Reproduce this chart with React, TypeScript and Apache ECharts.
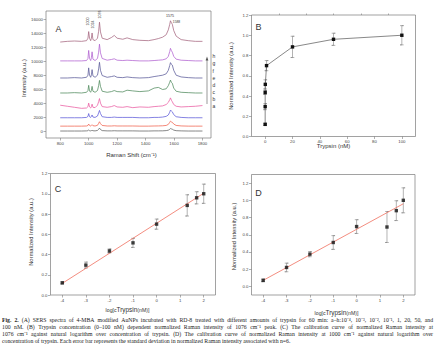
import React, { useEffect, useRef } from "react";
import * as echarts from "echarts";

// ---------- Panel A: SERS spectra ----------
const SHIFT = [800, 850, 900, 950, 985, 995, 1000, 1006, 1014, 1019, 1024, 1030, 1045, 1062, 1070, 1076, 1083, 1095, 1130, 1160, 1180, 1200, 1240, 1270, 1310, 1360, 1420, 1460, 1490, 1520, 1545, 1560, 1570, 1575, 1582, 1588, 1598, 1615, 1650, 1700, 1750, 1800];
const SPEC_A = [0, 0, 0, 0, 20, 50, 150, 50, 20, 60, 100, 40, 20, 80, 250, 420, 220, 60, 20, 20, 40, 20, 20, 20, 20, 0, 0, 20, 20, 30, 60, 120, 250, 350, 300, 260, 130, 50, 20, 0, 0, 0];
const SPEC_B = [700, 700, 700, 700, 720, 800, 1000, 800, 720, 800, 900, 760, 720, 820, 1100, 1330, 1050, 800, 720, 720, 750, 720, 720, 720, 720, 700, 700, 720, 730, 750, 800, 950, 1250, 1420, 1300, 1250, 1000, 800, 730, 700, 700, 700];
const SPEC_C = [1900, 1900, 1900, 1900, 1950, 2100, 2500, 2050, 1950, 2100, 2300, 2000, 1950, 2150, 2600, 2950, 2500, 2050, 1950, 1950, 2000, 1950, 1950, 1950, 1950, 1900, 1900, 1950, 1950, 2000, 2100, 2300, 2700, 3000, 2850, 2750, 2350, 2050, 1950, 1900, 1900, 1900];
const SPEC_D = [3700, 3550, 3400, 3250, 3300, 3500, 4000, 3450, 3300, 3500, 3850, 3400, 3350, 3700, 4200, 4650, 4000, 3500, 3400, 3500, 3650, 3450, 3400, 3500, 3350, 3450, 3400, 3500, 3550, 3600, 3800, 4100, 4500, 4750, 4400, 4200, 3800, 3550, 3450, 3500, 3550, 3650];
const SPEC_E = [5450, 5450, 5500, 5450, 5550, 5800, 6550, 5750, 5550, 5850, 6400, 5700, 5550, 5800, 6500, 7250, 6400, 5700, 5550, 5650, 5800, 5650, 5600, 5850, 5750, 5650, 5750, 6150, 6250, 5950, 6050, 6500, 7000, 7300, 6950, 6850, 6150, 5700, 5550, 5500, 5450, 5450];
const SPEC_F = [7600, 7600, 7650, 7600, 7700, 8000, 9050, 8000, 7700, 8050, 8800, 7900, 7700, 8000, 8900, 9850, 8700, 7950, 7700, 7800, 7900, 7700, 7650, 7750, 7650, 7600, 7650, 7800, 7900, 8000, 8200, 8700, 9400, 9800, 9550, 9450, 8700, 8000, 7750, 7650, 7600, 7600];
const SPEC_G = [10050, 10050, 10050, 10050, 10100, 10400, 11550, 10400, 10100, 10500, 11350, 10300, 10100, 10400, 11300, 12450, 11200, 10400, 10150, 10250, 10350, 10150, 10100, 10150, 10100, 10050, 10050, 10100, 10150, 10200, 10350, 10700, 11400, 11850, 11500, 11300, 10700, 10300, 10150, 10100, 10050, 10050];
const SPEC_H = [12750, 12850, 12900, 12850, 12950, 13300, 14250, 13300, 12950, 13300, 14050, 13100, 12950, 13300, 14300, 15600, 14200, 13300, 13100, 13400, 13700, 13300, 13150, 13350, 13100, 13000, 12950, 13100, 13250, 13450, 13800, 14500, 15300, 15800, 15500, 15300, 14400, 13600, 13100, 12950, 12850, 12850];
const SPECTRA = [SPEC_A, SPEC_B, SPEC_C, SPEC_D, SPEC_E, SPEC_F, SPEC_G, SPEC_H];
const SPEC_COLORS = ["#606060", "#f0604c", "#5c5ad8", "#ea5aa0", "#4f8a5c", "#5a5a98", "#b060d0", "#a4647e"];
const SPEC_LETTERS = ["a", "b", "c", "d", "e", "f", "g", "h"];
const A_X_TICKS = [800, 1000, 1200, 1400, 1600, 1800];
const A_Y_TICKS = [0, 2000, 4000, 6000, 8000, 10000, 12000, 14000, 16000];

// ---------- Panels B–D ----------
const CONC = [0.0001, 0.001, 0.01, 0.1, 1, 20, 50, 100];
const LOGC = [-4, -3, -2, -1, 0, 1.3, 1.7, 2];
const INT_1076 = [0.12, 0.295, 0.435, 0.515, 0.7, 0.885, 0.96, 1.0];
const ERR_1076 = [0.01, 0.03, 0.02, 0.045, 0.05, 0.105, 0.06, 0.095];
const INT_1000 = [0.07, 0.22, 0.375, 0.51, 0.695, 0.69, 0.88, 1.0];
const ERR_1000 = [0.015, 0.05, 0.03, 0.08, 0.08, 0.18, 0.115, 0.145];
const FIT_C = [[-4, 0.115], [2, 1.005]];
const FIT_D = [[-4, 0.07], [2, 0.96]];
const B_X_TICKS = [0, 20, 40, 60, 80, 100];
const B_X_MINOR = [10, 30, 50, 70, 90];
const LOG_TICKS = [-4, -3, -2, -1, 0, 1, 2];
const NORM_TICKS = [0, 0.2, 0.4, 0.6, 0.8, 1.0, 1.2];

const CAPTION = [
  "Fig. 2. (A) SERS spectra of 4-MBA modified AuNPs incubated with RD-8 treated with different amounts of trypsin for 60 min: a–h:10⁻⁴, 10⁻³, 10⁻², 10⁻¹, 1, 20, 50, and",
  "100 nM. (B) Trypsin concentration (0–100 nM) dependent normalized Raman intensity of 1076 cm⁻¹ peak. (C) The calibration curve of normalized Raman intensity at",
  "1076 cm⁻¹ against natural logarithm over concentration of trypsin. (D) The calibration curve of normalized Raman intensity at 1000 cm⁻¹ against natural logarithm over",
  "concentration of trypsin. Each error bar represents the standard deviation in normalized Raman intensity associated with n=6.",
];

const SANS = "Liberation Sans";
const SERIF = "Liberation Serif";
const FRAME = "#7a7a7a";

function axis(gridIndex: number, min: number, max: number, ticks: number[], fmt: (v: number) => string, extra: any = {}) {
  return {
    type: "value",
    gridIndex,
    min,
    max,
    axisLine: { show: false, onZero: false },
    splitLine: { show: false },
    axisTick: { show: true, inside: false, length: extra.tickLength || 2.5, customValues: ticks, lineStyle: { color: FRAME, width: 0.6 } },
    axisLabel: { show: extra.noLabel ? false : true, customValues: ticks, fontSize: 4.3, color: "#444", margin: 3, fontFamily: SANS, formatter: fmt },
  };
}

function errRender(params: any, api: any) {
  const x = api.value(0), y = api.value(1), e = api.value(2);
  const t = api.coord([x, y + e]);
  const b = api.coord([x, y - e]);
  const w = 1.8;
  return {
    type: "polyline",
    shape: {
      points: [
        [t[0] - w, t[1]],
        [t[0] + w, t[1]],
        [t[0], t[1]],
        [b[0], b[1]],
        [b[0] - w, b[1]],
        [b[0] + w, b[1]],
      ],
    },
    style: { stroke: "#808080", lineWidth: 0.6, fill: "none" },
  };
}

function txt(x: number, y: number, text: string, fontSize: number, opts: any = {}) {
  return {
    type: "text",
    x,
    y,
    rotation: opts.rotation || 0,
    style: {
      text,
      fontSize,
      fontFamily: opts.fontFamily || SANS,
      fontWeight: opts.fontWeight || "normal",
      fill: opts.fill || "#333",
      align: opts.align || "center",
      verticalAlign: "middle",
      rich: opts.rich,
    },
  };
}

function captionElements() {
  const out: any[] = [];
  const FS = 5.75;
  const canvas = document.createElement("canvas");
  const ctx = canvas.getContext("2d") as CanvasRenderingContext2D;
  const left = 2, right = 433;
  const ys = [319.5, 326.8, 334.1, 341.4];
  CAPTION.forEach((line, i) => {
    const words = line.split(" ");
    const bolds = words.map((w, j) => i === 0 && j < 2);
    const widths = words.map((w, j) => {
      ctx.font = `${bolds[j] ? "bold " : ""}${FS}px "${SERIF}"`;
      return ctx.measureText(w).width;
    });
    ctx.font = `${FS}px "${SERIF}"`;
    const sp = ctx.measureText(" ").width;
    const sum = widths.reduce((a, b) => a + b, 0);
    const justify = i < CAPTION.length - 1;
    const gap = justify ? (right - left - sum) / (words.length - 1) : sp;
    let x = left;
    words.forEach((w, j) => {
      out.push(txt(x, ys[i], w, FS, { fontFamily: SERIF, align: "left", fontWeight: bolds[j] ? "bold" : "normal", fill: "#222" }));
      x += widths[j] + gap;
    });
  });
  return out;
}

export default function App() {
  const ref = useRef<HTMLDivElement>(null);
  useEffect(() => {
    const chart = echarts.init(ref.current as HTMLDivElement, null, { renderer: "svg" });
    const grids = [
      { left: 46, top: 11, width: 165, height: 127 },
      { left: 251.5, top: 15, width: 164, height: 121.5 },
      { left: 50.5, top: 173.5, width: 165, height: 121.5 },
      { left: 251.5, top: 174.5, width: 163.5, height: 120.5 },
    ].map((g) => ({ ...g, show: true, borderColor: FRAME, borderWidth: 0.7, backgroundColor: "transparent" }));

    const intFmt = (v: number) => String(Math.round(v));
    const oneDec = (v: number) => v.toFixed(1);

    const series: any[] = [];
    SPECTRA.forEach((vals, k) => {
      series.push({
        type: "line",
        xAxisIndex: 0,
        yAxisIndex: 0,
        showSymbol: false,
        symbol: "none",
        data: SHIFT.map((s, i) => [s, vals[i]]),
        lineStyle: { color: SPEC_COLORS[k], width: 0.75 },
        z: 2,
      });
    });

    const errSeries = (gi: number, xs: number[], ys: number[], es: number[]) => ({
      type: "custom",
      xAxisIndex: gi,
      yAxisIndex: gi,
      renderItem: errRender,
      data: xs.map((c, i) => [c, ys[i], es[i]]),
      encode: { x: 0, y: 1 },
      clip: false,
      z: 2,
    });

    // Panel B
    series.push(errSeries(1, CONC, INT_1076, ERR_1076));
    series.push({
      type: "line",
      xAxisIndex: 1,
      yAxisIndex: 1,
      data: CONC.map((c, i) => [c, INT_1076[i]]),
      symbol: "rect",
      symbolSize: 3.4,
      itemStyle: { color: "#111" },
      lineStyle: { color: "#555", width: 0.7 },
      z: 3,
    });

    // Panel C
    series.push({
      type: "line",
      xAxisIndex: 2,
      yAxisIndex: 2,
      data: FIT_C,
      symbol: "none",
      lineStyle: { color: "#f07060", width: 0.8 },
      z: 2,
    });
    series.push(errSeries(2, LOGC, INT_1076, ERR_1076));
    series.push({
      type: "scatter",
      xAxisIndex: 2,
      yAxisIndex: 2,
      data: LOGC.map((c, i) => [c, INT_1076[i]]),
      symbol: "rect",
      symbolSize: 3.4,
      itemStyle: { color: "#111" },
      z: 3,
    });

    // Panel D
    series.push({
      type: "line",
      xAxisIndex: 3,
      yAxisIndex: 3,
      data: FIT_D,
      symbol: "none",
      lineStyle: { color: "#f07060", width: 0.8 },
      z: 2,
    });
    series.push(errSeries(3, LOGC, INT_1000, ERR_1000));
    series.push({
      type: "scatter",
      xAxisIndex: 3,
      yAxisIndex: 3,
      data: LOGC.map((c, i) => [c, INT_1000[i]]),
      symbol: "rect",
      symbolSize: 3.4,
      itemStyle: { color: "#111" },
      z: 3,
    });

    const subRich = {
      a: { fontSize: 5.2, fontFamily: SANS, fill: "#333", verticalAlign: "bottom" },
      b: { fontSize: 6.4, fontFamily: SANS, fill: "#333", verticalAlign: "top" },
    };

    const graphic: any[] = [
      // panel letters
      txt(58.5, 29, "A", 9),
      txt(258.5, 26.5, "B", 9),
      txt(58, 188.5, "C", 9),
      txt(258.5, 193, "D", 9),
      // axis titles
      txt(23.5, 78, "Intensity (a.u.)", 6, { rotation: Math.PI / 2 }),
      txt(131.5, 155, "Raman Shift (cm⁻¹)", 6),
      txt(231, 76, "Normalized Intensity (a.u.)", 5.8, { rotation: Math.PI / 2 }),
      txt(333.5, 146, "Trypsin (nM)", 6),
      txt(31, 232, "Normalized Intensity (a.u.)", 5.8, { rotation: Math.PI / 2 }),
      txt(127.5, 309, "{a|log[c}{b|Trypsin}{a|(nM)]}", 5.2, { rich: subRich }),
      txt(233.5, 236.5, "Normalized Intensity (a.u.)", 5.8, { rotation: Math.PI / 2 }),
      txt(336.5, 312, "{a|log[c}{b|Trypsin}{a|(nM)]}", 5.2, { rich: subRich }),
      // peak labels
      txt(88.3, 21.5, "1000", 3.6, { rotation: Math.PI / 2 }),
      txt(93.2, 24.5, "1024", 3.6, { rotation: Math.PI / 2 }),
      txt(100, 14.5, "1076", 3.6, { rotation: Math.PI / 2 }),
      txt(170, 15.5, "1575", 3.6),
      txt(176.5, 21.5, "1588", 3.3),
      // arrow
      { type: "line", shape: { x1: 207, y1: 59, x2: 207, y2: 104 }, style: { stroke: "#555", lineWidth: 0.6 } },
      { type: "polygon", shape: { points: [[205.6, 60.5], [208.4, 60.5], [207, 56.5]] }, style: { fill: "#555" } },
      ...SPEC_LETTERS.map((l, k) => txt(212.5, 106 - k * 7.1, l, 5, { align: "left" })),
      ...captionElements(),
    ];

    chart.setOption({
      animation: false,
      backgroundColor: "#ffffff",
      grid: grids,
      xAxis: [
        axis(0, 700, 1860, A_X_TICKS, intFmt),
        axis(1, -10, 110, B_X_TICKS, intFmt),
        axis(2, -4.5, 2.5, LOG_TICKS, intFmt),
        axis(3, -4.5, 2.5, LOG_TICKS, intFmt),
        axis(1, -10, 110, B_X_MINOR, intFmt, { tickLength: 1.5, noLabel: true }),
      ],
      yAxis: [
        axis(0, -1000, 17200, A_Y_TICKS, intFmt),
        axis(1, 0, 1.2, NORM_TICKS, oneDec),
        axis(2, 0, 1.2, NORM_TICKS, oneDec),
        axis(3, -0.1, 1.3, NORM_TICKS, oneDec),
      ],
      series,
      graphic,
    });
    return () => chart.dispose();
  }, []);
  return <div ref={ref} style={{ position: "fixed", left: 0, top: 0, width: 435, height: 351, background: "#fff" }} />;
}
